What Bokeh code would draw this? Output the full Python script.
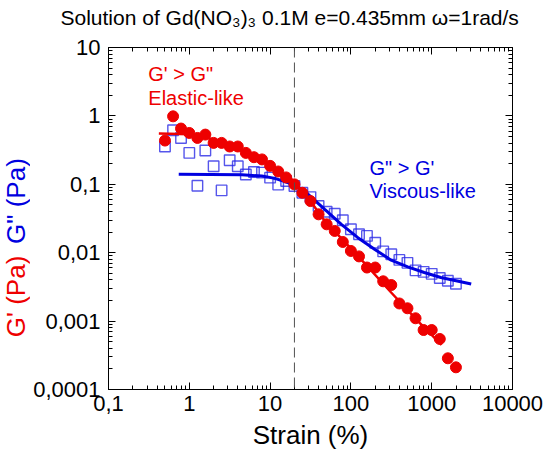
import math
from bokeh.plotting import figure
from bokeh.layouts import row
from bokeh.models import Range1d, LogAxis, FixedTicker, Label, Span, CustomJSTickFormatter
from bokeh.embed import file_html
from bokeh.resources import INLINE

# ---------------- data ----------------
strain = [0.5, 0.63, 0.79, 1.0, 1.26, 1.58, 2.0, 2.51, 3.16, 3.98,
          5.01, 6.31, 7.94, 10.0, 12.6, 15.8, 20.0, 25.1, 31.6, 39.8,
          50.1, 63.1, 79.4, 100, 126, 158, 200, 251, 316, 398,
          501, 631, 794, 1000, 1259, 1585, 1995]
g_prime = [0.436, 0.986, 0.653, 0.563, 0.476, 0.533, 0.403, 0.403, 0.357, 0.357,
           0.288, 0.249, 0.231, 0.186, 0.154, 0.126, 0.0998, 0.0752, 0.0569, 0.0364,
           0.026, 0.0208, 0.01435, 0.0106, 0.00883, 0.00607, 0.00607, 0.00382, 0.00337, 0.00181,
           0.00154, 0.0011, 0.000741, 0.000741, 0.000548, 0.000286, 0.000211]
g_double = [0.357, 0.617, 0.476, 0.288, 0.095, 0.312, 0.184, 0.0814, 0.225, 0.184,
            0.139, 0.151, 0.148, 0.125, 0.099, 0.112, 0.0942, 0.0752, 0.065, 0.0481,
            0.0397, 0.0371, 0.0298, 0.022, 0.0186, 0.0176, 0.014, 0.01044, 0.0095, 0.00785,
            0.0071, 0.00552, 0.00525, 0.00491, 0.00427, 0.00388, 0.00351]

fit_gp_x = [0.42, 1.0, 2.5, 5.9, 10.5, 18.5, 29.6, 47.5, 122, 315, 670, 1324]
fit_gp_y = [0.555, 0.54, 0.43, 0.275, 0.184, 0.118, 0.063, 0.0291, 0.00897, 0.00262, 0.00101, 0.000449]

fit_gd_x = [0.74, 4.47, 7.9, 11.5, 20.3, 29.6, 47.5, 76.2, 122, 196, 315, 505, 809, 1297, 3083]
fit_gd_y = [0.14, 0.138, 0.132, 0.122, 0.097, 0.0713, 0.043, 0.026, 0.0166, 0.01125, 0.00778, 0.0062, 0.00513, 0.00434, 0.00348]

crossover_strain = 20

x_ticks = [0.1, 1, 10, 100, 1000, 10000]
x_tick_labels = ["0,1", "1", "10", "100", "1000", "10000"]
y_ticks = [0.0001, 0.001, 0.01, 0.1, 1, 10]
y_tick_labels = ["0,0001", "0,001", "0,01", "0,1", "1", "10"]

title_text = "Solution of Gd(NO\u2083)\u2083 0.1M e=0.435mm \u03c9=1rad/s"
x_title = "Strain (%)"
y_title_gp = "G' (Pa)"
y_title_gd = "G\" (Pa)"

FONT = "Liberation Sans"
RED = "#ee0000"
BLUE = "#0000e0"

LAB_W = 30  # width of the strip that carries the two-colour y title

# ---------------- main figure ----------------
p = figure(width=547 - LAB_W, height=452, x_axis_type="log", y_axis_type="log",
           x_range=Range1d(0.1, 10000), y_range=Range1d(0.0001, 10),
           output_backend="svg", toolbar_location=None,
           min_border_left=106 - LAB_W, min_border_right=35, min_border_top=46, min_border_bottom=63)
p.xgrid.visible = False
p.ygrid.visible = False
p.outline_line_color = "black"
p.outline_line_width = 1
p.background_fill_color = "white"
p.border_fill_color = "white"

p.title.text = title_text
p.title.text_font = FONT
p.title.text_font_size = "21px"
p.title.text_font_style = "normal"
p.title.text_color = "black"
p.title.align = "left"
p.title.offset = -48
p.title.vertical_align = "top"
p.title.standoff = 10


def minors(e0, e1):
    return [m * 10 ** e for e in range(e0, e1) for m in range(2, 10)]


def label_formatter(vals, labs):
    return CustomJSTickFormatter(args=dict(vals=vals, labs=labs), code="""
        let best = 0;
        for (let i = 0; i < vals.length; i++) {
            if (Math.abs(Math.log10(vals[i]) - Math.log10(tick)) < 1e-6) best = i;
        }
        return labs[best];
    """)


def style_axis(ax):
    ax.axis_line_color = "black"
    ax.axis_line_width = 1
    ax.major_tick_in = 7
    ax.major_tick_out = 0
    ax.minor_tick_in = 4
    ax.minor_tick_out = 0
    ax.major_tick_line_color = "black"
    ax.minor_tick_line_color = "black"
    ax.major_label_text_font = FONT
    ax.major_label_text_font_size = "22px"
    ax.major_label_text_color = "black"


p.xaxis.ticker = FixedTicker(ticks=x_ticks, minor_ticks=minors(-1, 4))
p.yaxis.ticker = FixedTicker(ticks=y_ticks, minor_ticks=minors(-4, 1))
p.xaxis.formatter = label_formatter(x_ticks, x_tick_labels)
p.yaxis.formatter = label_formatter(y_ticks, y_tick_labels)
style_axis(p.xaxis[0])
style_axis(p.yaxis[0])
p.xaxis.major_label_standoff = 6
p.yaxis.major_label_standoff = 8

p.xaxis.axis_label = x_title
p.xaxis.axis_label_text_font = FONT
p.xaxis.axis_label_text_font_size = "26px"
p.xaxis.axis_label_text_font_style = "normal"
p.xaxis.axis_label_text_color = "black"
p.xaxis.axis_label_standoff = 6

# mirrored axes (ticks only); the top one keeps a blank label row to lift the title
top = LogAxis(ticker=FixedTicker(ticks=x_ticks, minor_ticks=minors(-1, 4)))
style_axis(top)
top.formatter = CustomJSTickFormatter(code="return ' ';")
top.major_label_text_font_size = "8px"
top.major_label_standoff = 0
p.add_layout(top, "above")

right = LogAxis(ticker=FixedTicker(ticks=y_ticks, minor_ticks=minors(-4, 1)))
style_axis(right)
right.formatter = CustomJSTickFormatter(code="return '';")
right.major_label_standoff = 0
p.add_layout(right, "right")

# ---------------- marks ----------------
p.add_layout(Span(location=crossover_strain, dimension="height", line_color="#505050",
                  line_dash="10 5", line_width=1))

p.scatter(strain, g_double, marker="square", size=10.5, fill_color=None,
          line_color="#2a2ae6", line_width=1.4, line_alpha=0.8)
p.line(fit_gd_x, fit_gd_y, line_color=BLUE, line_width=3)
p.scatter(strain, g_prime, marker="circle", size=11, fill_color=RED, line_color=RED)
p.line(fit_gp_x, fit_gp_y, line_color=RED, line_width=2.5)

# in-plot annotations
for txt, xx, yy, col in [("G' > G\"", 0.311, 4.14, RED), ("Elastic-like", 0.311, 1.85, RED),
                         ("G\" > G'", 170, 0.171, BLUE), ("Viscous-like", 170, 0.0789, BLUE)]:
    p.add_layout(Label(x=xx, y=yy, text=txt, text_font=FONT, text_font_size="20px",
                       text_color=col, text_align="left", text_baseline="alphabetic"))

# ---------------- y title strip (two colours) ----------------
ylab = figure(width=LAB_W, height=452, x_range=Range1d(0, LAB_W), y_range=Range1d(0, 452),
              output_backend="svg", toolbar_location=None,
              x_axis_location=None, y_axis_location=None,
              min_border=0, min_border_left=0, min_border_right=0,
              min_border_top=0, min_border_bottom=0)
ylab.xgrid.visible = False
ylab.ygrid.visible = False
ylab.outline_line_color = None
ylab.background_fill_color = "white"
ylab.border_fill_color = "white"
# label centres: page x 15; page y 329 (red) and 203 (blue); data y = 452 - page y
ylab.add_layout(Label(x=15, y=452 - 329, text=y_title_gp, text_font=FONT, text_font_size="26px",
                      text_color=RED, text_align="center", text_baseline="middle", angle=math.pi / 2))
ylab.add_layout(Label(x=15, y=452 - 203, text=y_title_gd, text_font=FONT, text_font_size="26px",
                      text_color=BLUE, text_align="center", text_baseline="middle", angle=math.pi / 2))

layout = row(ylab, p, spacing=0)
open("out.html", "w").write(file_html(layout, INLINE))
